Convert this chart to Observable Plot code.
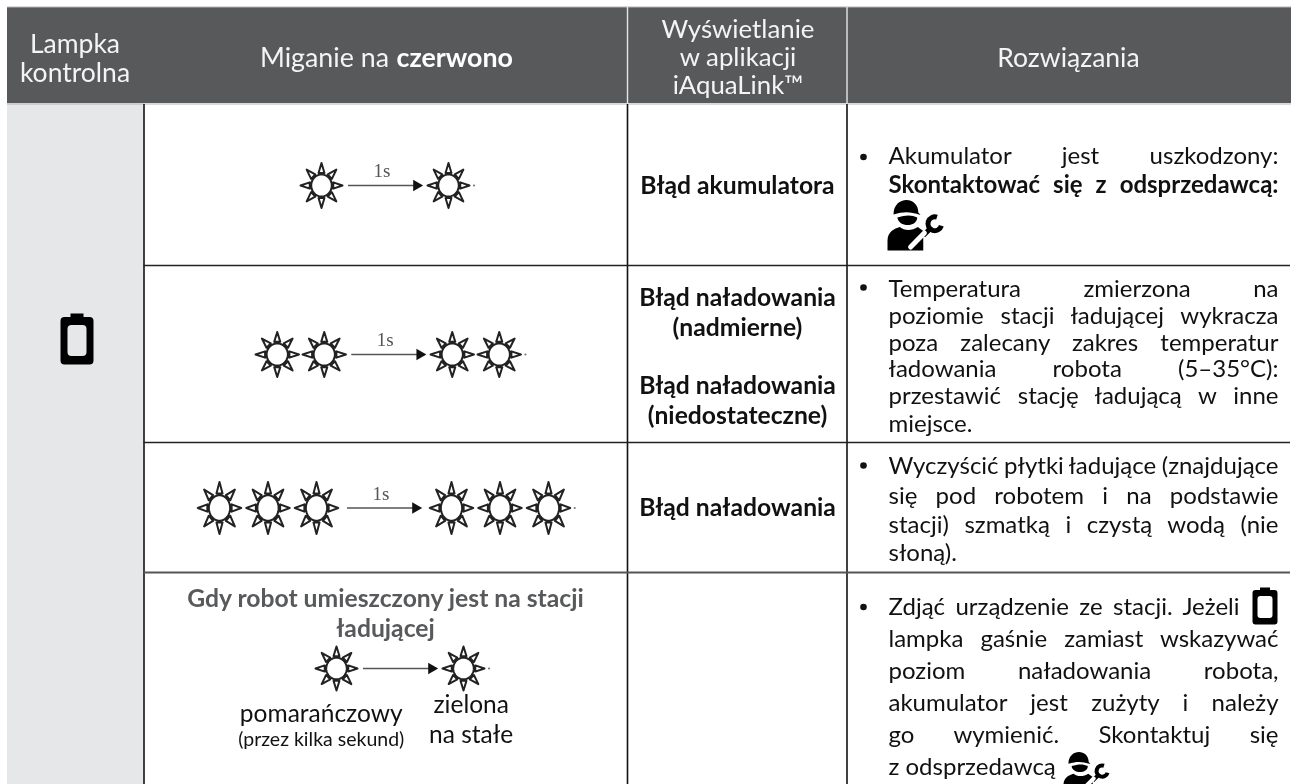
<!DOCTYPE html>
<html lang="pl">
<head>
<meta charset="utf-8">
<style>html,body{margin:0;padding:0;background:#fff;overflow:hidden}svg{display:block}</style>
<script src="https://cdn.jsdelivr.net/npm/d3@7"></script>
<script src="https://cdn.jsdelivr.net/npm/@observablehq/plot@0.6"></script>
</head>
<body>
<div id="chart"></div>
<script>
// ---- table content ----
const headerLamp = ["Lampka", "kontrolna"];
const headerBlinkPlain = "Miganie na";
const headerBlinkBold = "czerwono";
const headerApp = ["Wyświetlanie", "w aplikacji", "iAquaLink™"];
const headerFix = "Rozwiązania";
const flashCounts = [1, 2, 3, 1];
const delayLabel = "1s";
const appMessages = ["Błąd akumulatora", "Błąd naładowania", "(nadmierne)", "Błąd naładowania", "(niedostateczne)", "Błąd naładowania"];
const fixJustified = [
  "Akumulator jest uszkodzony:",
  "Temperatura zmierzona na",
  "poziomie stacji ładującej wykracza",
  "poza zalecany zakres temperatur",
  "ładowania robota (5–35°C):",
  "przestawić stację ładującą w inne",
  "Wyczyścić płytki ładujące (znajdujące",
  "się pod robotem i na podstawie",
  "stacji) szmatką i czystą wodą (nie",
  "Zdjąć urządzenie ze stacji. Jeżeli",
  "lampka gaśnie zamiast wskazywać",
  "poziom naładowania robota,",
  "akumulator jest zużyty i należy",
  "go wymienić. Skontaktuj się"
];
const fixBold = "Skontaktować się z odsprzedawcą:";
const fixLastLines = ["miejsce.", "słoną).", "z odsprzedawcą"];
const chargingTitle = ["Gdy robot umieszczony jest na stacji", "ładującej"];
const orangeLabel = "pomarańczowy";
const orangeNote = "(przez kilka sekund)";
const greenLabel = ["zielona", "na stałe"];

// ---- layout of the table, in picture units ----
const colEdges = [7, 143.5, 627, 846.5, 1291];
const rowEdges = [7, 103, 265, 442, 572, 784];
const fixLeft = 888, fixRight = 1278, fixRightBeforeBattery = 1239;
const fixBaselines = [163, 296, 323, 350, 376.5, 403.5, 473, 503, 532, 614, 646, 678, 710, 742];
const fixLastBaselines = [431, 560, 774];
const bulletYs = [156.5, 287, 465, 606.5];
const flashLayout = [
  {mid: 384.5, y: 185, gap: 127, pitch: 47.5, radius: 21, stretch: 1.07},
  {mid: 387.75, y: 354, gap: 128, pitch: 47, radius: 21.7, stretch: 1.04},
  {mid: 383.5, y: 507.5, gap: 135, pitch: 48.5, radius: 21.7, stretch: 1.2},
  {mid: 399.5, y: 668, gap: 127, pitch: 47, radius: 21, stretch: 1.05}
];
const appBaselines = [193, 305, 335, 393, 423, 515];
const font = "Lato";
const gray = "#58595b";
const headerSize = 26.5, appHeaderSize = 25.8, bodySize = 24, boldSize = 24.7;

// ---- icons as Plot symbols ----
function sunSymbol(stretch) {
  return {draw(c, size) {
    const R = Math.sqrt(size / Math.PI), r0 = R * 0.49, b = R * 0.56, hw = R * 0.14;
    const Y = v => v * stretch;
    for (let k = 0; k <= 48; ++k) {
      const a = k * Math.PI / 24, px = r0 * Math.cos(a), py = Y(r0 * Math.sin(a));
      if (k === 0) c.moveTo(px, py); else c.lineTo(px, py);
    }
    c.closePath();
    for (let k = 0; k < 8; ++k) {
      const a = k * Math.PI / 4, cs = Math.cos(a), sn = Math.sin(a);
      c.moveTo(b * cs - hw * sn, Y(b * sn + hw * cs));
      c.lineTo(R * cs, Y(R * sn));
      c.lineTo(b * cs + hw * sn, Y(b * sn - hw * cs));
      c.closePath();
    }
  }};
}
function batterySymbol(hw, hh, bw, holeW, holeH, capW, capH) {
  return {draw(c) {
    const rr = (x0, y0, x1, y1, r, cw) => {
      if (cw) {
        c.moveTo(x0 + r, y0); c.lineTo(x1 - r, y0); c.arcTo(x1, y0, x1, y0 + r, r);
        c.lineTo(x1, y1 - r); c.arcTo(x1, y1, x1 - r, y1, r);
        c.lineTo(x0 + r, y1); c.arcTo(x0, y1, x0, y1 - r, r);
        c.lineTo(x0, y0 + r); c.arcTo(x0, y0, x0 + r, y0, r);
      } else {
        c.moveTo(x0 + r, y0); c.arcTo(x0, y0, x0, y0 + r, r);
        c.lineTo(x0, y1 - r); c.arcTo(x0, y1, x0 + r, y1, r);
        c.lineTo(x1 - r, y1); c.arcTo(x1, y1, x1, y1 - r, r);
        c.lineTo(x1, y0 + r); c.arcTo(x1, y0, x1 - r, y0, r);
      }
      c.closePath();
    };
    rr(-hw, -hh + capH, hw, hh, bw, true);
    rr(-holeW, -holeH + capH * 0.4, holeW, holeH + capH * 0.4, bw, false);
    c.moveTo(-capW, -hh + capH + 1); c.lineTo(-capW, -hh); c.lineTo(capW, -hh); c.lineTo(capW, -hh + capH + 1); c.closePath();
  }};
}
function workerBody(sx, sy) {
  return {draw(c) {
    const X = v => v * sx, Y = v => v * sy;
    // cap
    c.moveTo(X(-0.78), Y(-0.44));
    c.bezierCurveTo(X(-0.78), Y(-1.2), X(0.12), Y(-1.2), X(0.12), Y(-0.52));
    c.lineTo(X(0.2), Y(-0.42));
    c.bezierCurveTo(X(-0.2), Y(-0.56), X(-0.4), Y(-0.56), X(-0.78), Y(-0.44));
    c.closePath();
    // chin
    c.moveTo(X(-0.64), Y(-0.32));
    c.bezierCurveTo(X(-0.35), Y(-0.43), X(-0.1), Y(-0.43), X(0.08), Y(-0.32));
    c.bezierCurveTo(X(0.08), Y(0.08), X(-0.6), Y(0.08), X(-0.64), Y(-0.32));
    c.closePath();
    // torso
    c.moveTo(X(-1), Y(1));
    c.lineTo(X(-1), Y(0.62));
    c.bezierCurveTo(X(-1), Y(0.25), X(-0.75), Y(0.12), X(-0.55), Y(0.06));
    c.bezierCurveTo(X(-0.4), Y(0.22), X(-0.1), Y(0.22), X(0.1), Y(0.06));
    c.lineTo(X(0.3), Y(0.22));
    c.lineTo(X(0.3), Y(1));
    c.closePath();
  }};
}
function workerSlash(sx, sy) {
  return {draw(c) {
    c.moveTo(-0.16 * sx, 0.86 * sy);
    c.lineTo(0.34 * sx, 0.3 * sy);
  }};
}
function workerWrench(sx, sy) {
  return {draw(c) {
    const r = sx * 0.25, cx = 0.72 * sx, cy = -0.07 * sy;
    c.moveTo(cx + r * Math.cos(-1.25), cy + r * Math.sin(-1.25));
    c.arc(cx, cy, r, -1.25, 0.3, true);
    c.moveTo(cx - r * 0.7, cy + r * 0.75);
    c.lineTo(0.3 * sx, 0.4 * sy);
  }};
}
function workerMarks(x, y, sx, sy) {
  const at = [{x, y}];
  const o = {x: "x", y: "y", r: 1};
  return [
    Plot.dot(at, {...o, symbol: workerBody(sx, sy), fill: "#000", stroke: "none"}),
    Plot.dot(at, {...o, symbol: workerWrench(sx, sy), fill: "none", stroke: "#000", strokeWidth: sy * 0.2}),
    Plot.dot(at, {...o, symbol: workerSlash(sx, sy), fill: "none", stroke: "#fff", strokeWidth: sy * 0.2, strokeLinecap: "round"})
  ];
}

// ---- derived tables for the marks ----
const lineRows = (texts, baselines, x) => texts.map((text, i) => ({text, y: baselines[i], x}));
const arrows = [], labels = [], specks = [];
const sunsByRow = flashCounts.map((n, i) => {
  const {mid, y, gap, pitch} = flashLayout[i];
  const lastLeft = mid - gap / 2, firstRight = mid + gap / 2;
  const row = [];
  for (let k = 0; k < n; ++k) row.push({x: lastLeft - k * pitch, y}, {x: firstRight + k * pitch, y});
  arrows.push({x1: mid - 37, x2: mid + 35.5 - 4, y});
  specks.push({x: firstRight + (n - 1) * pitch + flashLayout[i].radius + 4.5, y});
  if (i < 3) labels.push({x: mid - 3, y: y - 8.5, text: delayLabel});
  return row;
});
const rightEdge = new Map(fixJustified.map((t, i) => [t, i === 9 ? fixRightBeforeBattery : fixRight]));
rightEdge.set(fixBold, fixRight);

const baseText = {x: "x", y: "y", text: "text", fontFamily: font, lineAnchor: "bottom"};

const chart = Plot.plot({
  width: 1291, height: 784, margin: 0,
  x: {type: "linear", domain: [0, 1291], range: [0, 1291], axis: null},
  y: {type: "linear", domain: [0, 784], range: [0, 784], axis: null},
  style: {background: "#fff", fontFamily: font, filter: "blur(0.3px)"},
  marks: [
    // cell fills
    Plot.rect([{x1: colEdges[0], x2: colEdges[1], y1: rowEdges[1], y2: rowEdges[5]}],
      {x1: "x1", x2: "x2", y1: "y1", y2: "y2", fill: "#e6e7e8"}),
    Plot.rect([{x1: colEdges[0], x2: colEdges[4], y1: rowEdges[0], y2: rowEdges[1]}],
      {x1: "x1", x2: "x2", y1: "y1", y2: "y2", fill: gray}),
    Plot.ruleY([rowEdges[0] - 0.5, rowEdges[1] + 0.5], {x1: colEdges[0], x2: colEdges[4], stroke: "#b3b4b6", strokeWidth: 1}),
    // grid lines
    Plot.ruleX(colEdges.slice(1, 4), {y1: rowEdges[1] + 1, y2: rowEdges[5], stroke: "#111", strokeWidth: 1.6}),
    Plot.ruleX(colEdges.slice(2, 4), {y1: rowEdges[0], y2: rowEdges[1], stroke: "#e6e7e8", strokeWidth: 1.4}),
    Plot.ruleY(rowEdges.slice(2, 4), {x1: colEdges[1], x2: 1290, stroke: "#222", strokeWidth: 1.5}),
    Plot.ruleY([rowEdges[4]], {x1: colEdges[1], x2: 1290, stroke: "#555", strokeWidth: 2}),

    // header
    Plot.text(lineRows(headerLamp, [52, 81], 74.5), {...baseText, fontSize: headerSize, fill: "#f4f4f4", textAnchor: "middle"}),
    Plot.text([{x: 388.5, y: 66, text: headerBlinkPlain}], {...baseText, fontSize: headerSize + 0.3, fill: "#f4f4f4", textAnchor: "end"}),
    Plot.text([{x: 396, y: 66, text: headerBlinkBold}], {...baseText, fontSize: headerSize + 0.3, fontWeight: 700, fill: "#fff", textAnchor: "start"}),
    Plot.text(lineRows(headerApp, [37, 65, 93], 737.5), {...baseText, fontSize: appHeaderSize, fill: "#f4f4f4", textAnchor: "middle"}),
    Plot.text([{x: 1068, y: 66, text: headerFix}], {...baseText, fontSize: headerSize, fill: "#f4f4f4", textAnchor: "middle"}),

    // battery in the first column and in the last row's text
    Plot.dot([{x: 76.5, y: 338.5}], {x: "x", y: "y", r: 1, fill: "#000", stroke: "none",
      symbol: batterySymbol(16.5, 25.5, 4, 9.5, 15.5, 6.5, 3.5)}),
    Plot.dot([{x: 1264.5, y: 605.5}], {x: "x", y: "y", r: 1, fill: "#000", stroke: "none",
      symbol: batterySymbol(12.5, 18.5, 3, 7.5, 11, 5, 2.5)}),

    // flashing lamp sequences
    ...sunsByRow.map((row, i) => Plot.dot(row, {x: "x", y: "y", r: flashLayout[i].radius,
      symbol: sunSymbol(flashLayout[i].stretch), fill: "#fff", stroke: "#222", strokeWidth: 2, strokeLinejoin: "round"})),
    Plot.dot(specks, {x: "x", y: "y", r: 1.1, fill: "#777", stroke: "none"}),
    Plot.link(arrows, {x1: "x1", x2: "x2", y1: "y", y2: "y", stroke: "#555", strokeWidth: 1.3}),
    Plot.dot(arrows, {x: "x2", y: "y", r: 5.5, symbol: "triangle2", rotate: 90, fill: "#111", stroke: "none"}),
    Plot.text(labels, {...baseText, fontFamily: "Liberation Serif", fontSize: 19, fill: "#555", textAnchor: "middle"}),

    // app column
    Plot.text(lineRows(appMessages, appBaselines, 737), {...baseText, fontSize: boldSize, fontWeight: 700, fill: "#111", textAnchor: "middle"}),

    // solutions column
    Plot.dot(bulletYs.map(y => ({x: 863, y})), {x: "x", y: "y", r: 3.3, fill: "#111", stroke: "none"}),
    Plot.text(lineRows(fixJustified, fixBaselines, fixLeft), {...baseText, fontSize: bodySize, fill: "#111", textAnchor: "start"}),
    Plot.text([{text: fixBold, x: fixLeft, y: 192}], {...baseText, fontSize: bodySize, fontWeight: 700, fill: "#111", textAnchor: "start"}),
    Plot.text(lineRows(fixLastLines, fixLastBaselines, fixLeft), {...baseText, fontSize: bodySize, fill: "#111", textAnchor: "start"}),
    ...workerMarks(914.5, 225, 27.5, 25),
    ...workerMarks(1085.5, 772, 22.5, 20),

    // charging row
    Plot.text(lineRows(chargingTitle, [606.5, 636], 385), {...baseText, fontSize: boldSize, fontWeight: 700, fill: gray, textAnchor: "middle"}),
    Plot.text([{x: 320.7, y: 721.5, text: orangeLabel}], {...baseText, fontSize: bodySize + 0.5, fill: "#111", textAnchor: "middle"}),
    Plot.text([{x: 320.7, y: 745, text: orangeNote}], {...baseText, fontSize: 19.5, fill: "#111", textAnchor: "middle"}),
    Plot.text(lineRows(greenLabel, [712, 742.5], 470.7), {...baseText, fontSize: bodySize + 0.5, fill: "#111", textAnchor: "middle"})
  ]
});

document.getElementById("chart").append(chart);

// justified lines: change the word gaps so each line reaches its right edge
d3.select(chart).selectAll("text").each(function () {
  const right = rightEdge.get(this.textContent);
  if (right === undefined) return;
  const gaps = this.textContent.split(" ").length - 1;
  const extra = (right - fixLeft - this.getComputedTextLength()) / gaps;
  this.style.wordSpacing = extra.toFixed(2) + "px";
});
</script>
</body>
</html>
